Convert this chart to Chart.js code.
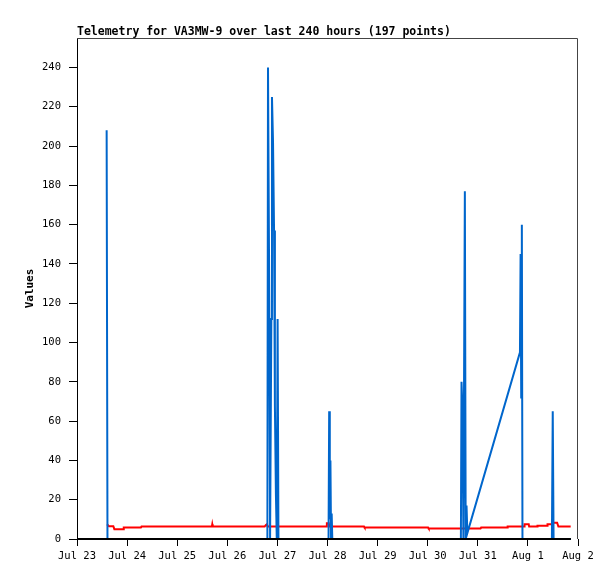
<!DOCTYPE html>
<html>
<head>
<meta charset="utf-8">
<script src="https://cdn.jsdelivr.net/npm/chart.js@4/dist/chart.umd.min.js"></script>
<style>
  html, body { margin: 0; padding: 0; background: #fff; }
</style>
</head>
<body>
<canvas id="graph" width="615" height="579"></canvas>
<script>
// x values are hours after Jul 23 00:00
var tickLabels = ['Jul 23', 'Jul 24', 'Jul 25', 'Jul 26', 'Jul 27', 'Jul 28',
                  'Jul 29', 'Jul 30', 'Jul 31', 'Aug 1', 'Aug 2'];

var blueHours  = [14.2, 14.6, 91.2, 91.5, 92.1, 92.5, 93.1, 93.4, 93.9, 94.4, 94.8, 95.3, 95.7, 96.1, 96.5,
                  120.5, 120.8, 121.1, 121.4, 121.7, 122.0, 122.3,
                  183.9, 184.2, 184.7, 185.1, 185.8, 186.2, 186.6, 187.0,
                  212.2, 212.5, 212.8, 213.1, 213.4, 227.5, 227.9, 228.3, 236.6];
var blueValues = [208, 0, 0, 240, 121, 0, 112, 225, 202, 157, 68, 22, 0, 112, 0,
                  0, 65, 10, 40, 0, 13, 0,
                  0, 80, 65, 0, 177, 0, 17, 3,
                  95, 145, 72, 160, 0, 0, 65, 0, 0];

var redHours  = [14.4, 15.3, 17.4, 17.9, 22.1, 22.4, 30.6, 30.9, 64.6, 64.8,
                 65.0, 89.9, 90.4, 91.0, 91.3, 119.3, 119.7, 120.6, 120.9, 137.5,
                 137.8, 168.2, 168.5, 193.3, 193.6, 206.0, 206.3, 214.2, 214.4, 216.4,
                 216.6, 220.4, 220.6, 225.2, 225.4, 227.8, 228.0, 230.0, 230.6, 236.5];
var redValues = [7.5, 6.5, 6.5, 5, 5, 5.8, 5.8, 6.3, 6.3, 7.5,
                 6.3, 6.3, 7, 7.5, 6.3, 6.3, 8, 8, 6.3, 6.3,
                 5.8, 5.8, 5.3, 5.3, 5.8, 5.8, 6.3, 6.3, 7.5, 7.5,
                 6.3, 6.3, 6.8, 6.8, 7.5, 7.5, 8.3, 8.3, 6.3, 6.3];

var blackHours  = [0, 236.6];
var blackValues = [0, 0];

var titleText = 'Telemetry for VA3MW-9 over last 240 hours (197 points)';

function toPoints(xs, ys) {
  var pts = [];
  for (var i = 0; i < xs.length; i++) pts.push({x: xs[i], y: ys[i]});
  return pts;
}

// title at the left edge of the plot + top/right frame
var framePlugin = {
  id: 'frame',
  afterDraw: function (chart) {
    var ctx = chart.ctx, a = chart.chartArea;
    ctx.save();
    ctx.strokeStyle = '#444';
    ctx.lineWidth = 1;
    ctx.beginPath();
    ctx.moveTo(a.left, a.top + 0.5);
    ctx.lineTo(a.right - 0.5, a.top + 0.5);
    ctx.lineTo(a.right - 0.5, a.bottom);
    ctx.stroke();
    ctx.fillStyle = '#000';
    ctx.font = 'bold 11.5px "DejaVu Sans Mono"';
    ctx.textBaseline = 'alphabetic';
    ctx.fillText(titleText, a.left, 34.5);
    ctx.restore();
  }
};

var lineStyle = { pointRadius: 0, borderWidth: 2, tension: 0, fill: false, clip: 2 };

var config = {
  type: 'line',
  data: {
    datasets: [
      Object.assign({ label: 'zero', data: toPoints(blackHours, blackValues), borderColor: '#000' }, lineStyle),
      Object.assign({ label: 'blue', data: toPoints(blueHours, blueValues), borderColor: 'rgb(0,102,204)' }, lineStyle),
      Object.assign({ label: 'red', data: toPoints(redHours, redValues), borderColor: 'rgb(255,0,0)' }, lineStyle)
    ]
  },
  options: {
    responsive: false,
    animation: false,
    devicePixelRatio: 1,
    layout: { padding: { top: 38, right: 37, bottom: 0, left: 0 } },
    plugins: { legend: { display: false }, tooltip: { enabled: false }, title: { display: false } },
    scales: {
      x: {
        type: 'linear',
        min: 0,
        max: 240,
        afterFit: function (scale) { scale.height = 40; },
        border: { display: false },
        grid: { drawOnChartArea: false, drawTicks: true, tickLength: 7, color: '#000' },
        ticks: {
          stepSize: 24,
          autoSkip: false,
          maxRotation: 0,
          padding: 4,
          color: '#000',
          font: { family: 'DejaVu Sans Mono', size: 10.5 },
          callback: function (v) { return tickLabels[Math.round(v / 24)]; }
        }
      },
      y: {
        min: 0,
        max: 255,
        afterFit: function (scale) { scale.width = 77; },
        afterBuildTicks: function (scale) {
          scale.ticks = scale.ticks.filter(function (t) { return t.value % 20 === 0; });
        },
        border: { display: true, color: '#000', width: 1 },
        grid: { drawOnChartArea: false, drawTicks: true, tickLength: 8, color: '#000' },
        ticks: {
          stepSize: 20,
          padding: 8,
          color: '#000',
          font: { family: 'DejaVu Sans Mono', size: 10.5 }
        },
        title: {
          display: true,
          text: 'Values',
          color: '#000',
          padding: { top: 24, bottom: 0 },
          font: { family: 'DejaVu Sans Mono', size: 11, weight: 'bold' }
        }
      }
    }
  },
  plugins: [framePlugin]
};

var myChart = new Chart(document.getElementById('graph'), config);
</script>
</body>
</html>
